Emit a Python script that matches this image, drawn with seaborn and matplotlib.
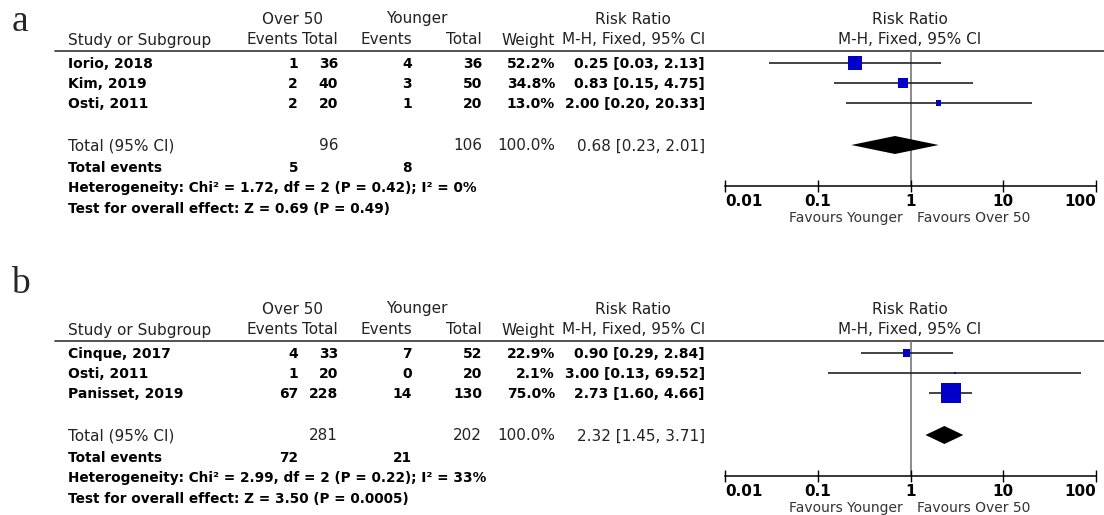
import matplotlib
matplotlib.use("Agg")
import matplotlib.pyplot as plt
from matplotlib.ticker import NullLocator
import pandas as pd
import seaborn as sns

sns.set_style("white")
plt.rcParams["font.family"] = ["DejaVu Sans"]

# panel a: patients over 50 vs younger
a_study = ["Iorio, 2018", "Kim, 2019", "Osti, 2011"]
a_over_ev = [1, 2, 2]
a_over_n = [36, 40, 20]
a_young_ev = [4, 3, 1]
a_young_n = [36, 50, 20]
a_weight = [52.2, 34.8, 13.0]
a_rr = [0.25, 0.83, 2.00]
a_lo = [0.03, 0.15, 0.20]
a_hi = [2.13, 4.75, 20.33]
a_total_n = [96, 106]
a_total_ev = [5, 8]
a_pooled = [0.68, 0.23, 2.01]
a_het = "Heterogeneity: Chi\u00b2 = 1.72, df = 2 (P = 0.42); I\u00b2 = 0%"
a_test = "Test for overall effect: Z = 0.69 (P = 0.49)"

# panel b
b_study = ["Cinque, 2017", "Osti, 2011", "Panisset, 2019"]
b_over_ev = [4, 1, 67]
b_over_n = [33, 20, 228]
b_young_ev = [7, 0, 14]
b_young_n = [52, 20, 130]
b_weight = [22.9, 2.1, 75.0]
b_rr = [0.90, 3.00, 2.73]
b_lo = [0.29, 0.13, 1.60]
b_hi = [2.84, 69.52, 4.66]
b_total_n = [281, 202]
b_total_ev = [72, 21]
b_pooled = [2.32, 1.45, 3.71]
b_het = "Heterogeneity: Chi\u00b2 = 2.99, df = 2 (P = 0.22); I\u00b2 = 33%"
b_test = "Test for overall effect: Z = 3.50 (P = 0.0005)"

ticks = [0.01, 0.1, 1, 10, 100]
tick_labels = ["0.01", "0.1", "1", "10", "100"]

W, H = 1104, 515
fig = plt.figure(figsize=(W / 100, H / 100), dpi=100)
bg = fig.add_axes([0, 0, 1, 1])
bg.set_xlim(0, W)
bg.set_ylim(H, 0)
bg.axis("off")

# column right edges (pixels)
cols = [298, 338, 412, 482, 555, 705]
ROW0, STEP = 63, 20
TOP, BOT = 51, 186
TOT = 145


def fmt_rr(r, l, h):
    return f"{r:.2f} [{l:.2f}, {h:.2f}]"


def panel(dy, label, study, oe, on, ye, yn, wt, rr, lo, hi, tot_n, tot_ev, pooled, het, test):
    hdr = dict(size=11, color="#222", va="center")
    bg.text(20, 31 + dy + (0 if dy == 0 else -28), label, family="Liberation Serif", size=27,
            ha="center", va="baseline")
    bg.text(292, 19 + dy, "Over 50", ha="center", **hdr)
    bg.text(417, 19 + dy, "Younger", ha="center", **hdr)
    bg.text(633, 19 + dy, "Risk Ratio", ha="center", **hdr)
    bg.text(910, 19 + dy, "Risk Ratio", ha="center", **hdr)
    bg.text(68, 40 + dy, "Study or Subgroup", ha="left", **hdr)
    for x, t in zip(cols, ["Events", "Total", "Events", "Total", "Weight", "M-H, Fixed, 95% CI"]):
        bg.text(x, 40 + dy, t, ha="right", **hdr)
    bg.text(910, 40 + dy, "M-H, Fixed, 95% CI", ha="center", **hdr)
    bg.plot([55, W], [TOP + dy, TOP + dy], color="#444", lw=1.3)

    row = dict(size=10, weight="bold", color="black", va="center")
    for i in range(len(study)):
        y = ROW0 + STEP * i + dy + 1
        bg.text(68, y, study[i], ha="left", **row)
        vals = [oe[i], on[i], ye[i], yn[i], f"{wt[i]:.1f}%", fmt_rr(rr[i], lo[i], hi[i])]
        for x, v in zip(cols, vals):
            bg.text(x, y, str(v), ha="right", **row)

    tr = dict(size=11, color="#222", va="center")
    bg.text(68, TOT + dy + 1, "Total (95% CI)", ha="left", **tr)
    bg.text(cols[1], TOT + dy + 1, str(tot_n[0]), ha="right", **tr)
    bg.text(cols[3], TOT + dy + 1, str(tot_n[1]), ha="right", **tr)
    bg.text(cols[4], TOT + dy + 1, "100.0%", ha="right", **tr)
    bg.text(cols[5], TOT + dy + 1, fmt_rr(*pooled), ha="right", **tr)

    ft = dict(size=9.8, weight="bold", color="black", va="center")
    bg.text(68, 168 + dy, "Total events", ha="left", **ft)
    bg.text(cols[0], 168 + dy, str(tot_ev[0]), ha="right", **ft)
    bg.text(cols[2], 168 + dy, str(tot_ev[1]), ha="right", **ft)
    bg.text(68, 188 + dy, het, ha="left", **ft)
    bg.text(68, 209 + dy, test, ha="left", **ft)

    # forest plot axes
    ax = fig.add_axes([725 / W, 1 - (BOT + dy) / H, (1096 - 725) / W, (BOT - TOP) / H])
    ax.patch.set_alpha(0)
    ax.set_xscale("log")
    ax.set_xlim(0.01, 100)
    ax.set_ylim((BOT - ROW0) / STEP, (TOP - ROW0) / STEP)
    df = pd.DataFrame({"rr": rr, "lo": lo, "hi": hi, "w": wt, "row": range(len(rr))})
    ax.axvline(1, color="#777", lw=1.2, zorder=0)
    ax.hlines(df["row"], df["lo"], df["hi"], color="#222", lw=1.2, zorder=1)
    sizes = {w: ((2 + 0.235 * w) * 0.72) ** 2 for w in wt}
    sns.scatterplot(data=df, x="rr", y="row", size="w", sizes=sizes, marker="s",
                    color="#0000c8", linewidth=0, legend=False, ax=ax, zorder=2)
    t = (TOT - ROW0) / STEP
    ax.fill([pooled[1], pooled[0], pooled[2], pooled[0]], [t, t - 0.45, t, t + 0.45],
            color="black", lw=0, zorder=3)
    for s in ["top", "right", "left"]:
        ax.spines[s].set_visible(False)
    ax.spines["bottom"].set_color("black")
    ax.spines["bottom"].set_linewidth(1.1)
    ax.set_yticks([])
    ax.set_xticks(ticks)
    ax.set_xticklabels(tick_labels, fontweight="bold")
    labels = ax.get_xticklabels()
    labels[0].set_horizontalalignment("left")
    labels[-1].set_horizontalalignment("right")
    ax.xaxis.set_minor_locator(NullLocator())
    ax.tick_params(axis="x", direction="inout", length=9, width=1, pad=1, labelsize=11,
                   colors="black", bottom=True)
    ax.set_xlabel("")
    ax.set_ylabel("")

    bg.text(903, 218 + dy, "Favours Younger", ha="right", va="center", size=10, color="#333")
    bg.text(917, 218 + dy, "Favours Over 50", ha="left", va="center", size=10, color="#333")


panel(0, "a", a_study, a_over_ev, a_over_n, a_young_ev, a_young_n, a_weight, a_rr, a_lo, a_hi,
      a_total_n, a_total_ev, a_pooled, a_het, a_test)
panel(290, "b", b_study, b_over_ev, b_over_n, b_young_ev, b_young_n, b_weight, b_rr, b_lo, b_hi,
      b_total_n, b_total_ev, b_pooled, b_het, b_test)

fig.savefig("out.png", dpi=100)
